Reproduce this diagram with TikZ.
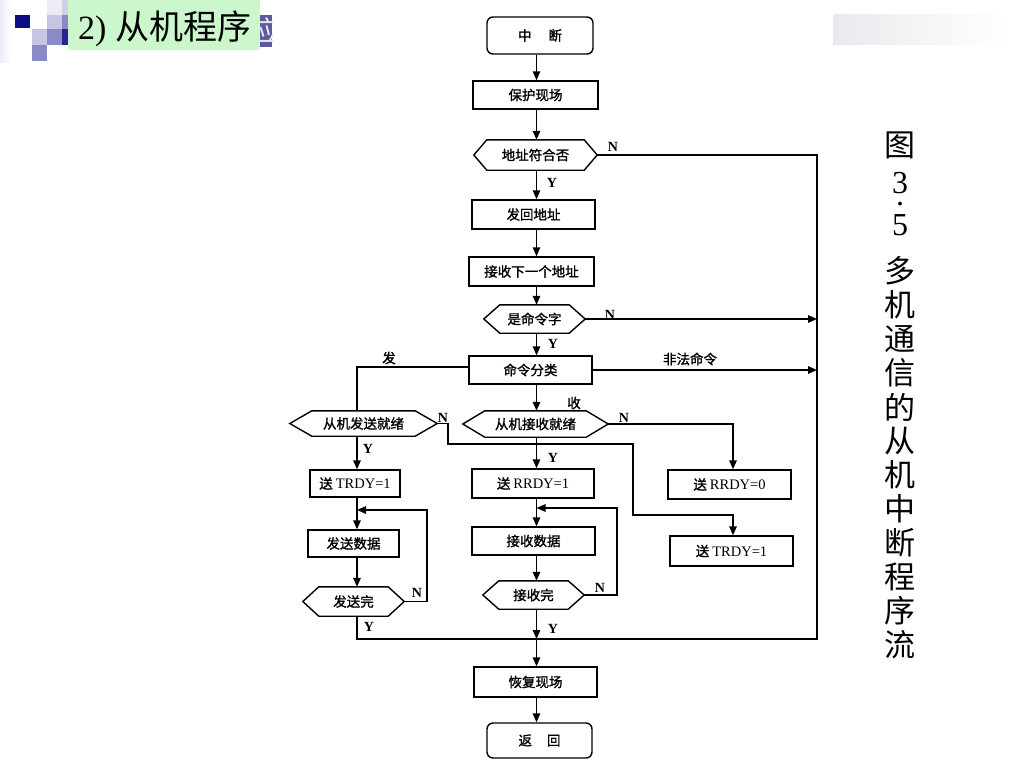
\documentclass[tikz,border=0pt]{standalone}
\usepackage{fontspec}
\setmainfont{Liberation Serif}
\newfontfamily\cjk{Noto Sans CJK SC}
\newfontfamily\cjkb{Noto Sans CJK SC}[FakeBold=1.3]
\usetikzlibrary{arrows.meta,calc}
\definecolor{titlegreen}{RGB}{204,247,204}
\definecolor{navy}{RGB}{14,14,132}
\definecolor{lav}{RGB}{198,198,228}
\definecolor{midlav}{RGB}{138,138,198}
\definecolor{paleLav}{RGB}{236,236,246}
\definecolor{purp}{RGB}{92,92,156}
\definecolor{barGray}{RGB}{234,234,238}
\newcommand\drawhex[2]{\draw[line] (#1.west) -- ([xshift=#2pt]#1.north west) -- ([xshift=-#2pt]#1.north east) -- (#1.east) -- ([xshift=-#2pt]#1.south east) -- ([xshift=#2pt]#1.south west) -- cycle;}
\newcommand\lat[1]{{\rmfamily\fontsize{14.5}{14.5}\selectfont #1}}
\begin{document}
\begin{tikzpicture}[x=1pt,y=-1pt,
  line/.style={line width=1.4pt,black},
  arr/.style={line,-{Triangle[length=9pt,width=7.5pt]}},
  txt/.style={inner sep=0pt,font=\cjkb\fontsize{13.5}{13.5}\selectfont},
  box/.style={txt,draw=black,line width=1.4pt},
  rbox/.style={box,rounded corners=6pt},
  hexn/.style={txt},
  yn/.style={inner sep=0pt,font=\bfseries\fontsize{14}{14}\selectfont},
  capc/.style={inner sep=0pt,font=\cjk\fontsize{31}{31}\selectfont},
  capd/.style={inner sep=0pt,font=\fontsize{32}{32}\selectfont},
]
\useasboundingbox (0,0) rectangle (1024,768);
\fill[white] (0,0) rectangle (1024,768);

% slide decoration
\shade[left color=paleLav,right color=white] (0,0) rectangle (11,62);
\fill[paleLav] (47,0) rectangle (62,15);
\fill[navy] (15,15) rectangle (30,28);
\fill[lav] (47,15) rectangle (62,29);
\fill[lav!85] (62,0) rectangle (68,15);
\fill[midlav] (62,15) rectangle (68,29);
\fill[navy!90] (62,29) rectangle (68,45);
\fill[lav] (32,29) rectangle (47,45);
\fill[midlav] (47,29) rectangle (62,45);
\fill[midlav] (32,45) rectangle (47,61);
\fill[titlegreen] (68,0) rectangle (260,50);
\fill[purp] (260,15) rectangle (272,47);
\begin{scope}
\clip (260,15) rectangle (272,47);
\node[inner sep=0pt,text=white!85!purp,font=\cjk\fontsize{28}{28}\selectfont] (ying) at (266,31) {应};
\end{scope}
\node[anchor=base west,inner sep=0pt] (title) at (78,40) {\fontsize{34}{34}\selectfont 2) {\cjk 从机程序}};
\shade[left color=barGray,right color=white] (833,15) rectangle (1007,45);

% axes
\coordinate (ax) at (536.5,0);
\coordinate (lx) at (357,0);
\coordinate (rx) at (817,0);
\coordinate (bx) at (733,0);
\coordinate (bot) at (536.5,639);

% nodes
\node[rbox,minimum width=106pt,minimum height=37pt] (zd) at (540,35.5) {中\hspace{17pt}断};
\node[box,minimum width=125pt,minimum height=28pt] (bh) at (535.5,95) {保护现场};
\node[hexn,minimum width=123pt,minimum height=30pt] (dz) at (535.5,155) {地址符合否};
\node[box,minimum width=123pt,minimum height=29pt] (fh) at (533.5,214.5) {发回地址};
\node[box,minimum width=125pt,minimum height=29pt] (js) at (531.5,271.5) {接收下一个地址};
\node[hexn,minimum width=101pt,minimum height=28pt] (sm) at (534.5,319) {是命令字};
\node[box,minimum width=123pt,minimum height=28pt] (ml) at (530.5,370) {命令分类};
\node[hexn,minimum width=147pt,minimum height=25pt] (fj) at (363.5,423.5) {从机发送就绪};
\node[hexn,minimum width=145pt,minimum height=26pt] (sj) at (535.5,424) {从机接收就绪};
\node[box,minimum width=90pt,minimum height=27pt] (st1) at (355,483.5) {送 \lat{TRDY=1}};
\node[box,minimum width=122pt,minimum height=29pt] (sr1) at (533,483.5) {送 \lat{RRDY=1}};
\node[box,minimum width=123pt,minimum height=29pt] (sr0) at (729.5,484.5) {送 \lat{RRDY=0}};
\node[box,minimum width=123pt,minimum height=30pt] (st2) at (731.5,551) {送 \lat{TRDY=1}};
\node[box,minimum width=91pt,minimum height=27pt] (fs) at (353.5,543.5) {发送数据};
\node[box,minimum width=123pt,minimum height=28pt] (jsd) at (533.5,541) {接收数据};
\node[hexn,minimum width=101pt,minimum height=29pt] (fw) at (353.5,601.5) {发送完};
\node[hexn,minimum width=101pt,minimum height=28pt] (jw) at (533.5,595) {接收完};
\node[box,minimum width=123pt,minimum height=30pt] (hf) at (535.5,682) {恢复现场};
\node[rbox,minimum width=105pt,minimum height=35pt] (fhui) at (539.5,740.5) {返\hspace{15pt}回};

\drawhex{dz}{13}
\drawhex{sm}{16}
\drawhex{fj}{22}
\drawhex{sj}{22}
\drawhex{fw}{16}
\drawhex{jw}{16}

% main column
\draw[arr] (ax|-zd.south) -- (ax|-bh.north);
\draw[arr] (ax|-bh.south) -- (ax|-dz.north);
\draw[arr] (ax|-dz.south) -- (ax|-fh.north);
\draw[arr] (ax|-fh.south) -- (ax|-js.north);
\draw[arr] (ax|-js.south) -- (ax|-sm.north);
\draw[arr] (ax|-sm.south) -- (ax|-ml.north);
\draw[arr] (ax|-ml.south) -- (ax|-sj.north);
\draw[arr] (ax|-sj.south) -- (ax|-sr1.north);
\draw[arr] (ax|-sr1.south) -- (ax|-jsd.north);
\draw[arr] (ax|-jsd.south) -- (ax|-jw.north);
\draw[arr] (ax|-jw.south) -- (bot);
\draw[arr] (bot) -- (ax|-hf.north);
\draw[arr] (ax|-hf.south) -- (ax|-fhui.north);
\coordinate (lpR) at (617,508);
\draw[arr] (jw.east) -- (lpR|-jw.east) -- (lpR) -- (ax|-lpR);

% left column
\draw[line] ([yshift=3pt]ml.west) -| (lx|-fj.north);
\draw[arr] (lx|-fj.south) -- (lx|-st1.north);
\draw[arr] (lx|-st1.south) -- (lx|-fs.north);
\draw[arr] (lx|-fs.south) -- (lx|-fw.north);
\coordinate (lpL) at (427,510);
\draw[arr] (fw.east) -- (lpL|-fw.east) -- (lpL) -- (lx|-lpL);
\draw[line] (lx|-fw.south) -- (lx|-bot) -- (rx|-bot) -- (rx|-dz.east) -- (dz.east);

% right branches
\draw[arr] (sm.east) -- (rx|-sm.east);
\draw[arr] (ml.east) -- (rx|-ml.east);
\draw[arr] (sj.east) -- (bx|-sj.east) -- (bx|-sr0.north);
\coordinate (c1) at (448,444);
\coordinate (c2) at (633,515);
\draw[arr] (fj.east) -- (c1|-fj.east) -- (c1) -- (c2|-c1) -- (c2) -- (bx|-c2) -- (bx|-st2.north);

% labels
\node[yn] (y1) at (552,183) {Y};
\node[yn] (y2) at (553,344) {Y};
\node[yn] (y3) at (553,458) {Y};
\node[yn] (y4) at (553,629) {Y};
\node[yn] (y5) at (368,449) {Y};
\node[yn] (y6) at (369,627) {Y};
\node[yn] (n1) at (613,147) {N};
\node[yn] (n2) at (610,315) {N};
\node[yn] (n3) at (443,418) {N};
\node[yn] (n4) at (624,418) {N};
\node[yn] (n5) at (417,593) {N};
\node[yn] (n6) at (600,588) {N};
\node[txt] (lfa) at (389,358) {发};
\node[txt] (lshou) at (574,403) {收};
\node[txt] (lff) at (690,359) {非法命令};

% vertical caption
\node[capc] (cap0) at (900,145) {图};
\node[capd] (capd3) at (900,183) {3};
\node[capd] (capdot) at (900,204) {.};
\node[capd] (capd5) at (900,225) {5};
\foreach \c [count=\i from 0] in {多,机,通,信,的,从,机,中,断,程,序,流}
  \node[capc] (cap\i x) at (900,271+34*\i) {\c};
\end{tikzpicture}
\end{document}
